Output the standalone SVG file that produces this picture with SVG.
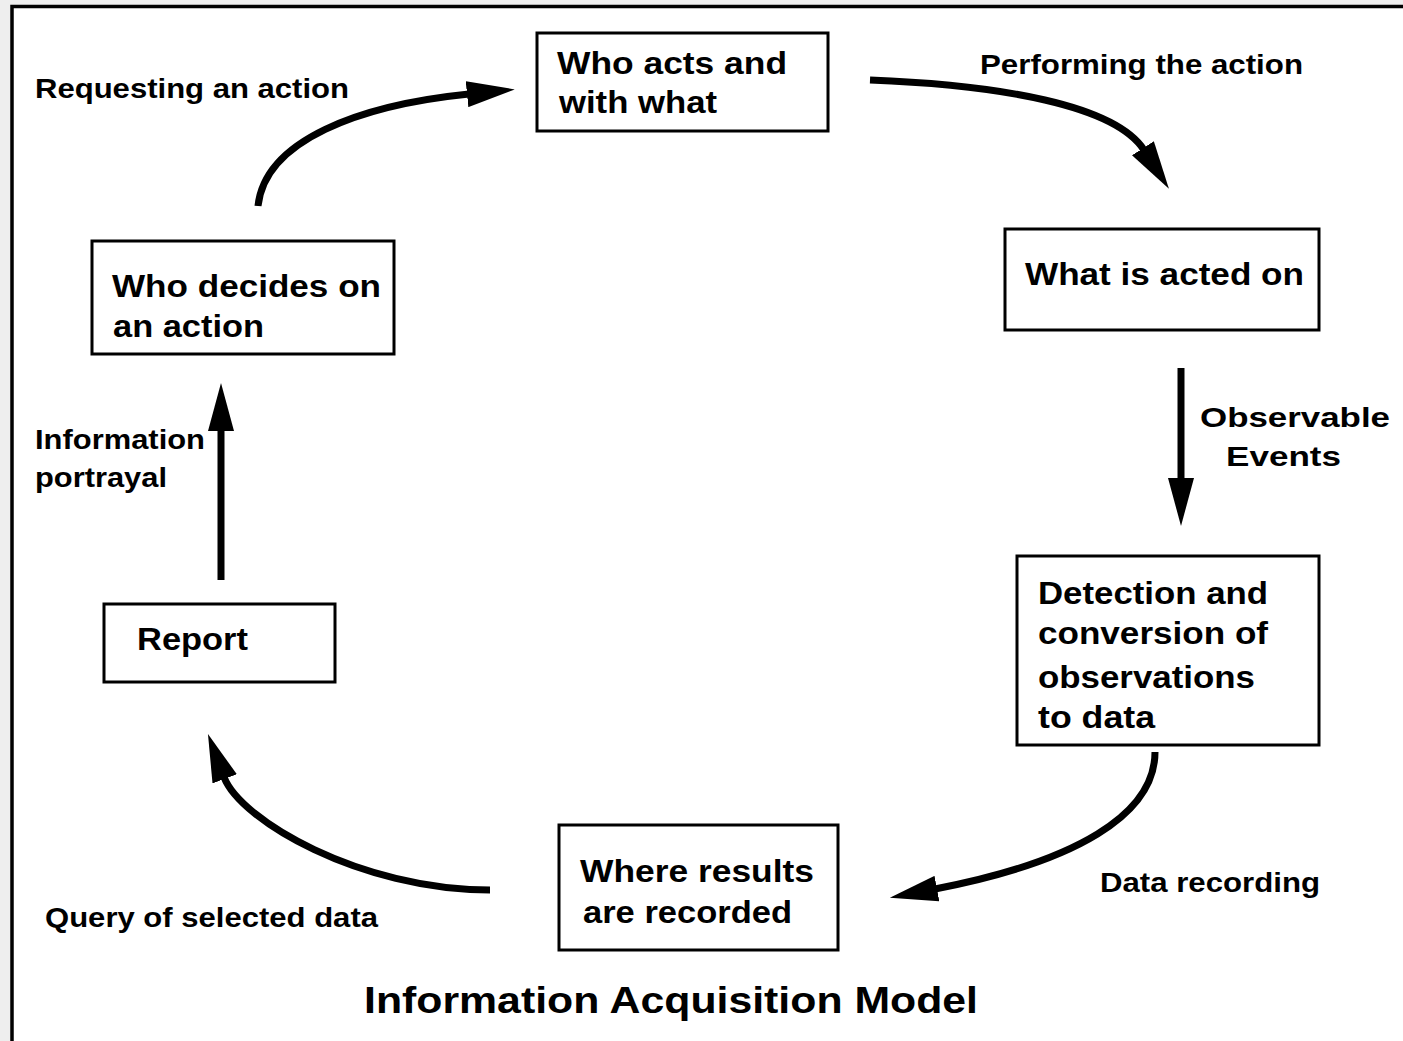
<svg xmlns="http://www.w3.org/2000/svg" width="1403" height="1041" viewBox="0 0 1403 1041">
  <style>
    .box { fill: #ffffff; stroke: #000000; stroke-width: 3; }
    .t { font-family: "Liberation Sans", Arial, sans-serif; font-weight: bold; font-size: 31px; fill: #000000; }
    .lbl { font-family: "Liberation Sans", Arial, sans-serif; font-weight: bold; font-size: 28px; fill: #000000; }
    .title { font-family: "Liberation Sans", Arial, sans-serif; font-weight: bold; font-size: 37px; fill: #000000; }
    .conn { fill: none; stroke: #000000; stroke-width: 7; }
  </style>
  <defs>
    <marker id="head" viewBox="0 0 48 26" markerWidth="48" markerHeight="26" markerUnits="userSpaceOnUse" refX="2" refY="13" orient="auto">
      <path d="M0,0 L48,13 L0,26 z" fill="#000000"/>
    </marker>
  </defs>

  <!-- page background and frame -->
  <rect x="0" y="0" width="1403" height="1041" fill="#eeeeee"/>
  <rect x="12" y="6" width="1391" height="1035" fill="#ffffff"/>
  <path d="M12,1041 L12,6.5 L1403,6.5" fill="none" stroke="#000000" stroke-width="3.5"/>

  <!-- connectors -->
  <g id="connectors">
    <path class="conn" marker-end="url(#head)" d="M258,206 C265,140 360,105 469,94"/>
    <path class="conn" marker-end="url(#head)" d="M870,80 C1000,85 1115,105 1144,150"/>
    <path class="conn" marker-end="url(#head)" d="M1181,368 L1181,480"/>
    <path class="conn" marker-end="url(#head)" d="M1155,752 C1155,815 1075,862 935,889"/>
    <path class="conn" marker-end="url(#head)" d="M490,890 C360,890 240,820 224,777"/>
    <path class="conn" marker-end="url(#head)" d="M221,580 L221,429"/>
  </g>

  <!-- connector labels -->
  <g id="labels">
    <text class="lbl" x="35" y="98" textLength="314" lengthAdjust="spacingAndGlyphs">Requesting an action</text>
    <text class="lbl" x="980" y="74" textLength="323" lengthAdjust="spacingAndGlyphs">Performing the action</text>
    <text class="lbl" x="1200" y="427" textLength="190" lengthAdjust="spacingAndGlyphs">Observable</text>
    <text class="lbl" x="1226" y="466" textLength="115" lengthAdjust="spacingAndGlyphs">Events</text>
    <text class="lbl" x="1100" y="892" textLength="220" lengthAdjust="spacingAndGlyphs">Data recording</text>
    <text class="lbl" x="45" y="927" textLength="333" lengthAdjust="spacingAndGlyphs">Query of selected data</text>
    <text class="lbl" x="35" y="449" textLength="170" lengthAdjust="spacingAndGlyphs">Information</text>
    <text class="lbl" x="35" y="487" textLength="132" lengthAdjust="spacingAndGlyphs">portrayal</text>
  </g>

  <!-- nodes -->
  <g id="who-acts">
    <rect class="box" x="537" y="33" width="291" height="98"/>
    <text class="t" x="557" y="74" textLength="230" lengthAdjust="spacingAndGlyphs">Who acts and</text>
    <text class="t" x="559" y="113" textLength="158" lengthAdjust="spacingAndGlyphs">with what</text>
  </g>
  <g id="acted-on">
    <rect class="box" x="1005" y="229" width="314" height="101"/>
    <text class="t" x="1025" y="285" textLength="279" lengthAdjust="spacingAndGlyphs">What is acted on</text>
  </g>
  <g id="detection">
    <rect class="box" x="1017" y="556" width="302" height="189"/>
    <text class="t" x="1038" y="604" textLength="230" lengthAdjust="spacingAndGlyphs">Detection and</text>
    <text class="t" x="1038" y="644" textLength="230" lengthAdjust="spacingAndGlyphs">conversion of</text>
    <text class="t" x="1038" y="688" textLength="217" lengthAdjust="spacingAndGlyphs">observations</text>
    <text class="t" x="1038" y="728" textLength="117" lengthAdjust="spacingAndGlyphs">to data</text>
  </g>
  <g id="recorded">
    <rect class="box" x="559" y="825" width="279" height="125"/>
    <text class="t" x="580" y="882" textLength="234" lengthAdjust="spacingAndGlyphs">Where results</text>
    <text class="t" x="583" y="923" textLength="209" lengthAdjust="spacingAndGlyphs">are recorded</text>
  </g>
  <g id="report">
    <rect class="box" x="104" y="604" width="231" height="78"/>
    <text class="t" x="137" y="650" textLength="111" lengthAdjust="spacingAndGlyphs">Report</text>
  </g>
  <g id="decides">
    <rect class="box" x="92" y="241" width="302" height="113"/>
    <text class="t" x="112" y="297" textLength="269" lengthAdjust="spacingAndGlyphs">Who decides on</text>
    <text class="t" x="113" y="337" textLength="151" lengthAdjust="spacingAndGlyphs">an action</text>
  </g>

  <!-- caption -->
  <text class="title" x="364" y="1013" textLength="614" lengthAdjust="spacingAndGlyphs">Information Acquisition Model</text>
</svg>
